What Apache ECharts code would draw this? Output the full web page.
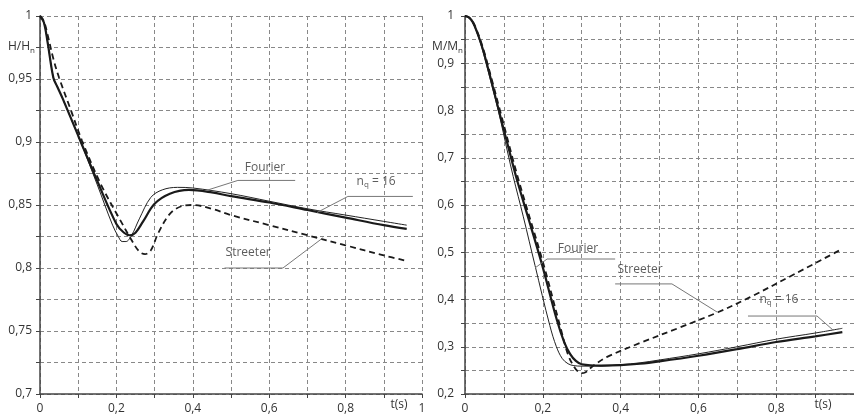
<!DOCTYPE html>
<html>
<head>
<meta charset="utf-8">
<script src="https://cdn.jsdelivr.net/npm/echarts@6/dist/echarts.min.js"></script>
<style>
  html, body { margin: 0; padding: 0; background: #fff; }
  #main { width: 854px; height: 414px; }
</style>
</head>
<body>
<div id="main"></div>
<script>
// ---- left chart: H/Hn ----
const hNqT = [0, 0.01, 0.02, 0.035, 0.045, 0.06, 0.1, 0.15, 0.2, 0.22, 0.235, 0.25, 0.27, 0.3, 0.34, 0.39, 0.45, 0.5, 0.6, 0.7, 0.8, 0.9, 0.96];
const hNqV = [1, 0.995, 0.979, 0.951, 0.944, 0.934, 0.905, 0.869, 0.835, 0.828, 0.826, 0.828, 0.837, 0.851, 0.859, 0.862, 0.86, 0.857, 0.852, 0.846, 0.84, 0.834, 0.831];

const hFourierT = [0, 0.01, 0.02, 0.035, 0.045, 0.06, 0.1, 0.15, 0.19, 0.205, 0.215, 0.225, 0.24, 0.26, 0.29, 0.32, 0.36, 0.4, 0.5, 0.6, 0.7, 0.8, 0.9, 0.96];
const hFourierV = [1, 0.995, 0.979, 0.951, 0.944, 0.934, 0.905, 0.866, 0.834, 0.825, 0.821, 0.821, 0.826, 0.839, 0.856, 0.862, 0.864, 0.8635, 0.859, 0.853, 0.847, 0.842, 0.837, 0.834];

const hStreeterT = [0, 0.01, 0.02, 0.035, 0.05, 0.08, 0.11, 0.16, 0.21, 0.24, 0.26, 0.275, 0.29, 0.31, 0.34, 0.37, 0.4, 0.45, 0.5, 0.6, 0.7, 0.8, 0.9, 0.955];
const hStreeterV = [1, 0.996, 0.985, 0.966, 0.951, 0.926, 0.901, 0.866, 0.838, 0.822, 0.813, 0.811, 0.814, 0.828, 0.843, 0.849, 0.85, 0.847, 0.842, 0.834, 0.826, 0.818, 0.81, 0.806];

// ---- right chart: M/Mn ----
const mNqT = [0, 0.01, 0.02, 0.03, 0.04, 0.05, 0.07, 0.087, 0.11, 0.133, 0.16, 0.197, 0.236, 0.255, 0.27, 0.285, 0.3, 0.35, 0.4, 0.45, 0.5, 0.6, 0.7, 0.8, 0.9, 0.97];
const mNqV = [1, 0.997, 0.987, 0.968, 0.945, 0.918, 0.855, 0.8, 0.727, 0.655, 0.58, 0.477, 0.357, 0.31, 0.285, 0.27, 0.263, 0.26, 0.261, 0.264, 0.269, 0.281, 0.295, 0.31, 0.322, 0.331];

const mFourierT = [0, 0.01, 0.02, 0.03, 0.04, 0.05, 0.07, 0.087, 0.11, 0.124, 0.15, 0.18, 0.218, 0.235, 0.25, 0.265, 0.28, 0.3, 0.35, 0.4, 0.45, 0.5, 0.6, 0.7, 0.8, 0.9, 0.97];
const mFourierV = [1, 0.997, 0.986, 0.966, 0.942, 0.913, 0.85, 0.795, 0.71, 0.66, 0.575, 0.472, 0.345, 0.3, 0.275, 0.264, 0.26, 0.259, 0.259, 0.262, 0.266, 0.272, 0.285, 0.3, 0.316, 0.329, 0.339];

const mStreeterT = [0, 0.01, 0.02, 0.03, 0.04, 0.05, 0.07, 0.09, 0.137, 0.2, 0.244, 0.265, 0.28, 0.29, 0.3, 0.31, 0.32, 0.335, 0.364, 0.45, 0.55, 0.65, 0.733, 0.85, 0.965];
const mStreeterV = [1, 0.997, 0.988, 0.97, 0.948, 0.922, 0.862, 0.8, 0.655, 0.48, 0.345, 0.283, 0.258, 0.248, 0.244, 0.246, 0.253, 0.263, 0.278, 0.308, 0.34, 0.373, 0.405, 0.455, 0.505];

// annotations: text, text position [t, v], leader polyline [[t, v], ...]
const annoText = ['Fourier', '{t|n}{s|q}{t| = 16}', 'Streeter', 'Fourier', 'Streeter', '{t|n}{s|q}{t| = 16}'];
const annoGrid = [0, 0, 0, 1, 1, 1];
const annoPos = [[0.589, 0.8795], [0.88, 0.8685], [0.545, 0.8125], [0.2905, 0.508], [0.45, 0.464], [0.807, 0.4]];
const annoLead = [
  [[0.436, 0.8616], [0.518, 0.8695], [0.668, 0.8695]],
  [[0.725, 0.844], [0.806, 0.8568], [0.976, 0.8568]],
  [[0.483, 0.8], [0.636, 0.8], [0.741, 0.824]],
  [[0.18, 0.4667], [0.211, 0.4857], [0.386, 0.4857]],
  [[0.386, 0.433], [0.532, 0.433], [0.648, 0.3735]],
  [[0.7275, 0.365], [0.905, 0.365], [0.946, 0.3354]]
];

const FONT = 'Open Sans';

function zip(ts, vs) {
  return ts.map((t, i) => [t, vs[i]]);
}

function comma(v) {
  return String(+v.toFixed(2)).replace('.', ',');
}

function isMult(v, step) {
  return Math.abs(v / step - Math.round(v / step)) < 1e-6;
}

function xAxisOf(idx, showOne) {
  return {
    type: 'value',
    gridIndex: idx,
    min: 0,
    max: 1,
    interval: 0.1,
    name: 't(s)',
    nameLocation: 'end',
    nameGap: showOne ? -23 : -31,
    nameTextStyle: { fontFamily: FONT, fontSize: 12, color: '#333', align: 'center', verticalAlign: 'top', padding: [5, 0, 0, 0] },
    axisLine: { lineStyle: { color: '#444', width: 1.5 } },
    axisTick: { show: true, length: 4, lineStyle: { color: '#444' } },
    axisLabel: {
      fontFamily: FONT, fontSize: 12, color: '#333', margin: 9,
      formatter: function (v) {
        if (isMult(v, 1)) return (v === 1 && !showOne) ? '' : String(Math.round(v));
        if (isMult(v, 0.2)) return comma(v);
        return '';
      }
    },
    splitLine: { show: true, lineStyle: { color: '#888', type: [4, 3], width: 1 } }
  };
}

function yAxisOf(idx, min, step, labelStep, nameRich, nameGapPad) {
  return {
    type: 'value',
    gridIndex: idx,
    min: min,
    max: 1,
    interval: step,
    name: nameRich,
    nameLocation: 'end',
    nameGap: -31,
    nameTextStyle: {
      fontFamily: FONT, fontSize: 12, color: '#333', align: 'right', verticalAlign: 'middle',
      padding: [0, nameGapPad, 0, 0],
      rich: {
        a: { fontFamily: FONT, fontSize: 12, color: '#333' },
        b: { fontFamily: FONT, fontSize: 8, color: '#333', padding: [7, 0, 0, 0] }
      }
    },
    axisLine: { show: true, lineStyle: { color: '#444', width: 1.5 } },
    axisTick: { show: true, length: 4, lineStyle: { color: '#444' } },
    axisLabel: {
      fontFamily: FONT, fontSize: 12, color: '#333', margin: idx === 0 ? 8 : 11,
      formatter: function (v) {
        if (!isMult(v, labelStep)) return '';
        if (isMult(v, 1)) return String(Math.round(v));
        return comma(v);
      }
    },
    splitLine: { show: true, lineStyle: { color: '#888', type: [4, 3], width: 1 } }
  };
}

function curve(idx, ts, vs, kind) {
  const style = {
    thick: { color: '#1a1a1a', width: 2.2, type: 'solid' },
    thin: { color: '#222', width: 1, type: 'solid' },
    dash: { color: '#1a1a1a', width: 1.8, type: [6, 4] }
  }[kind];
  return {
    type: 'line',
    xAxisIndex: idx,
    yAxisIndex: idx,
    data: zip(ts, vs),
    showSymbol: false,
    symbol: 'none',
    smooth: 0.35,
    lineStyle: style,
    z: 3,
    silent: true
  };
}

const series = [
  curve(0, hStreeterT, hStreeterV, 'dash'),
  curve(0, hFourierT, hFourierV, 'thin'),
  curve(0, hNqT, hNqV, 'thick'),
  curve(1, mStreeterT, mStreeterV, 'dash'),
  curve(1, mFourierT, mFourierV, 'thin'),
  curve(1, mNqT, mNqV, 'thick')
];

// leader lines and annotation texts
annoText.forEach(function (txt, i) {
  const g = annoGrid[i];
  series.push({
    type: 'line',
    xAxisIndex: g,
    yAxisIndex: g,
    data: annoLead[i],
    showSymbol: false,
    symbol: 'none',
    lineStyle: { color: '#777', width: 1 },
    z: 4,
    silent: true
  });
  series.push({
    type: 'scatter',
    xAxisIndex: g,
    yAxisIndex: g,
    data: [annoPos[i]],
    symbolSize: 0,
    z: 5,
    silent: true,
    label: {
      show: true,
      position: 'inside',
      formatter: txt,
      fontFamily: FONT,
      fontSize: 12,
      color: '#333',
      rich: {
        t: { fontFamily: FONT, fontSize: 12, color: '#333' },
        s: { fontFamily: FONT, fontSize: 8, color: '#333', padding: [7, 0, 0, 0] }
      }
    }
  });
});

const chart = echarts.init(document.getElementById('main'));
chart.setOption({
  animation: false,
  backgroundColor: '#fff',
  grid: [
    { left: 40, top: 16, width: 382, height: 378, outerBoundsMode: 'none', containLabel: false },
    { left: 465, top: 16, width: 389, height: 378, outerBoundsMode: 'none', containLabel: false }
  ],
  xAxis: [xAxisOf(0, true), xAxisOf(1, false)],
  yAxis: [
    yAxisOf(0, 0.7, 0.025, 0.05, '{a|H/H}{b|n}', 5),
    yAxisOf(1, 0.2, 0.05, 0.1, '{a|M/M}{b|n}', 2)
  ],
  series: series
});
</script>
</body>
</html>
